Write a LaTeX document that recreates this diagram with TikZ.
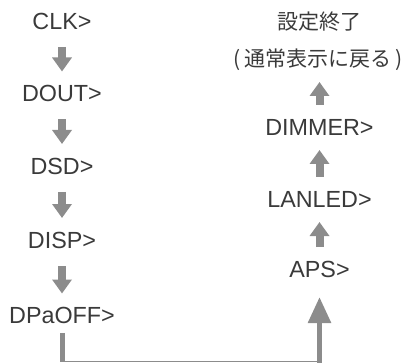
\documentclass[tikz,border=0pt]{standalone}
\usepackage{fontspec}
\setmainfont{Liberation Sans}
\newfontfamily\jpfont{Noto Sans CJK JP}
\usepackage{tikz}
\usetikzlibrary{arrows.meta}

\definecolor{labelgray}{HTML}{3A3A3A}
\definecolor{arrowgray}{HTML}{8C8C8C}

\begin{document}
\begin{tikzpicture}[x=0.75pt, y=-0.75pt,
  lbl/.style={inner sep=0pt, text=labelgray, font=\fontsize{17.5pt}{20pt}\selectfont, text height=12.5pt, text depth=0pt},
  jplbl/.style={inner sep=0pt, text=labelgray, font=\jpfont\fontsize{15.75pt}{18pt}\selectfont, text height=11.4pt, text depth=0pt},
  downarrow/.style={draw=arrowgray, line width=6pt, -{Triangle[width=14.25pt, length=10.5pt]}, shorten <=19.5pt, shorten >=16.5pt},
  uparrow/.style={draw=arrowgray, line width=6pt, -{Triangle[width=14.25pt, length=10.5pt]}, shorten <=16.5pt, shorten >=17.25pt},
  stemline/.style={draw=arrowgray, line width=3.75pt},
  returnline/.style={draw=arrowgray, line width=1.1pt},
  returnarrow/.style={draw=arrowgray, line width=4.1pt, -{Triangle[width=16.5pt, length=19.5pt]}}]
\useasboundingbox (0, 0) rectangle (406, 363);

% left column
\path (62, 21) node[lbl] (clk) {CLK>};
\path (62, 93.5) node[lbl] (dout) {DOUT>};
\path (62, 166) node[lbl] (dsd) {DSD>};
\path (62, 240) node[lbl] (disp) {DISP>};
\path (62, 315.5) node[lbl] (dpaoff) {DPaOFF>};

% right column
\path (319.5, 22) node[jplbl] (done) {設定終了};
\path (318, 59) node[jplbl] (back) {(\hspace{3pt}通常表示に戻る\hspace{3pt})};
\path (319.5, 127) node[lbl] (dimmer) {DIMMER>};
\path (319.5, 199) node[lbl] (lanled) {LANLED>};
\path (319.5, 269) node[lbl] (aps) {APS>};

\draw[downarrow] (clk.center) -- (dout.center);
\draw[downarrow] (dout.center) -- (dsd.center);
\draw[downarrow] (dsd.center) -- (disp.center);
\draw[downarrow] (disp.center) -- (dpaoff.center);

\draw[uparrow] (aps.center) -- (lanled.center);
\draw[uparrow] (lanled.center) -- (dimmer.center);
\draw[uparrow] (dimmer.center) -- (done.center |- back.center);

% way back round the bottom
\coordinate (turnL) at (62, 361.5);
\coordinate (turnR) at (319.5, 361.5);
\draw[stemline, shorten <=13.1pt, shorten >=-0.6pt] (dpaoff.center) -- (turnL);
\draw[returnline] (turnL) -- (turnR);
\draw[returnarrow, shorten <=-1.2pt, shorten >=21pt] (turnR) -- (aps.center);
\end{tikzpicture}
\end{document}
